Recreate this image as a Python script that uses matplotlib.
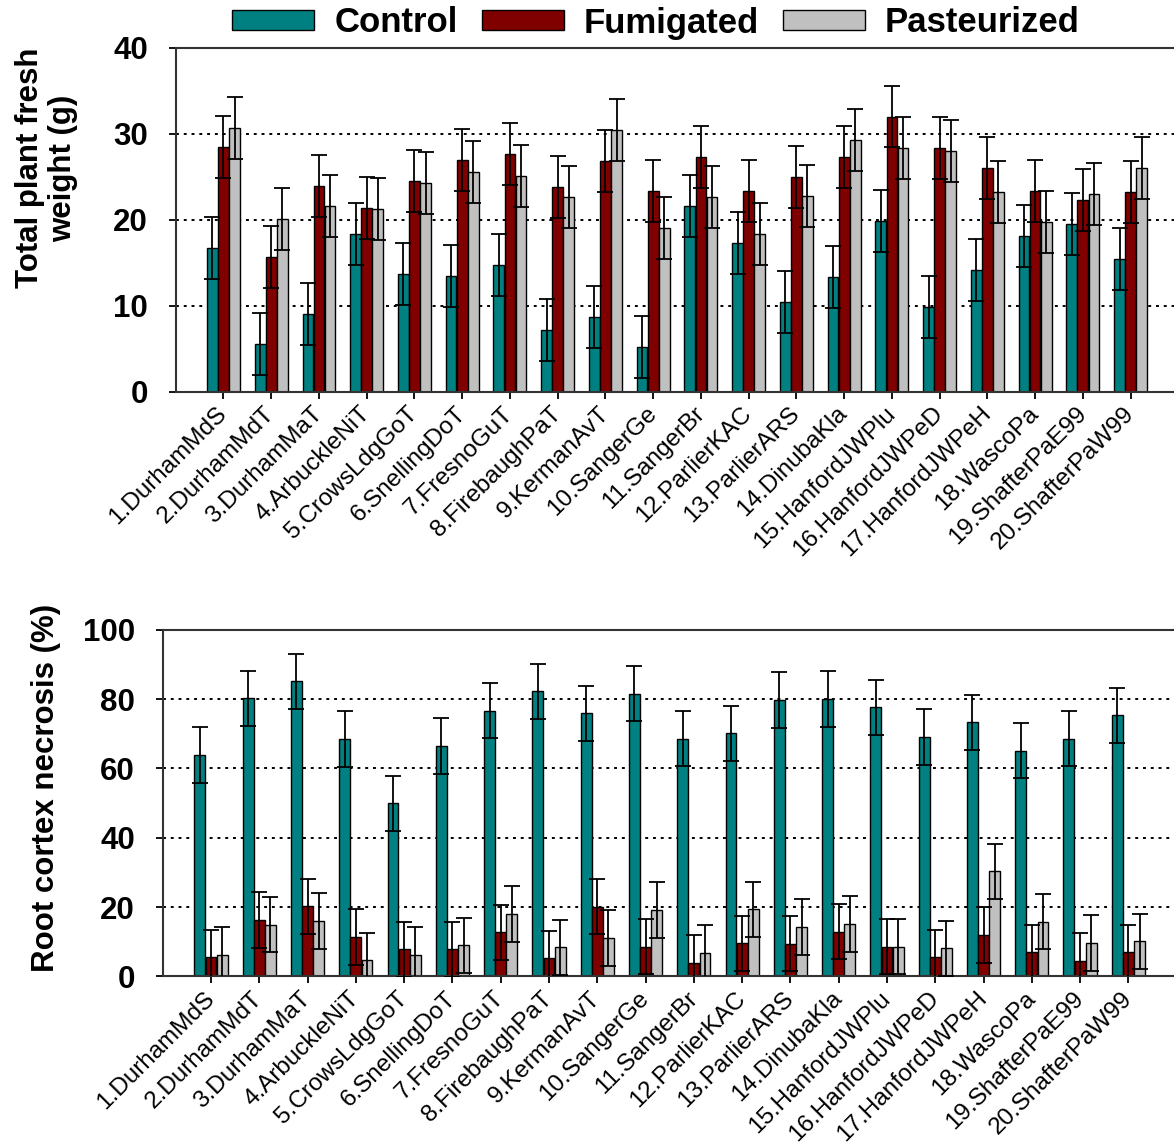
"""
Fresh weight and root cortex necrosis for 20 field soils under three treatments
"""
import matplotlib

matplotlib.use("Agg")
import matplotlib.pyplot as plt
from matplotlib.patches import Patch
from matplotlib.transforms import ScaledTranslation
import numpy as np

plt.rcParams["font.family"] = ["Liberation Sans", "DejaVu Sans"]

SITES = [
    "1.DurhamMdS",
    "2.DurhamMdT",
    "3.DurhamMaT",
    "4.ArbuckleNiT",
    "5.CrowsLdgGoT",
    "6.SnellingDoT",
    "7.FresnoGuT",
    "8.FirebaughPaT",
    "9.KermanAvT",
    "10.SangerGe",
    "11.SangerBr",
    "12.ParlierKAC",
    "13.ParlierARS",
    "14.DinubaKla",
    "15.HanfordJWPlu",
    "16.HanfordJWPeD",
    "17.HanfordJWPeH",
    "18.WascoPa",
    "19.ShafterPaE99",
    "20.ShafterPaW99",
]
TREATMENTS = ["Control", "Fumigated", "Pasteurized"]
COLORS = ["#008080", "#800000", "#C0C0C0"]

WEIGHT_CONTROL = [16.7, 5.5, 9.0, 18.3, 13.7, 13.5, 14.7, 7.2, 8.7, 5.2,
                  21.6, 17.3, 10.4, 13.3, 19.9, 9.9, 14.2, 18.1, 19.5, 15.4]
WEIGHT_FUMIGATED = [28.5, 15.7, 23.9, 21.4, 24.5, 26.9, 27.6, 23.8, 26.8, 23.3,
                    27.3, 23.3, 25.0, 27.3, 32.0, 28.3, 26.0, 23.3, 22.3, 23.2]
WEIGHT_PASTEURIZED = [30.7, 20.1, 21.6, 21.2, 24.3, 25.6, 25.1, 22.6, 30.4, 19.0,
                      22.6, 18.3, 22.8, 29.3, 28.3, 28.0, 23.2, 19.7, 23.0, 26.0]
WEIGHT_ERR = 3.6

NECROSIS_CONTROL = [63.9, 80.2, 85.1, 68.5, 49.9, 66.5, 76.7, 82.2, 75.9, 81.6,
                    68.6, 70.1, 79.7, 80.0, 77.6, 69.0, 73.3, 65.1, 68.6, 75.3]
NECROSIS_FUMIGATED = [5.5, 16.2, 20.2, 11.3, 7.8, 7.8, 12.7, 5.2, 20.1, 8.6,
                      3.9, 9.5, 9.4, 12.9, 8.6, 5.5, 11.9, 6.9, 4.4, 6.9]
NECROSIS_PASTEURIZED = [6.1, 14.9, 16.0, 4.6, 6.1, 8.9, 18.0, 8.4, 11.1, 19.2,
                        6.7, 19.3, 14.2, 15.1, 8.6, 8.1, 30.3, 15.8, 9.6, 10.1]
NECROSIS_ERR = 8.0

BAR_WIDTH = 0.225
BAR_STEP = 0.232


def draw_panel(axis, series, err, ylim, yticks, ylabel, label_xy):
    """
    Draws one grouped bar panel with error bars and dotted grid
    """
    x = np.arange(len(SITES))
    for i, (vals, color) in enumerate(zip(series, COLORS)):
        pos = x + (i - 1) * BAR_STEP
        axis.bar(pos, vals, BAR_WIDTH, color=color, edgecolor="black",
                 linewidth=1.0, zorder=2)
        axis.errorbar(pos, vals, yerr=err, fmt="none", ecolor="black",
                      elinewidth=1.3, capsize=5.5, capthick=1.3, zorder=3)

    axis.set_xlim(-1, 20)
    axis.set_ylim(*ylim)
    axis.set_yticks(yticks)
    axis.set_xticks(x)
    axis.set_xticklabels(SITES, rotation=45, ha="right", va="center",
                         rotation_mode="anchor", fontsize=17.5)
    shift = ScaledTranslation(0.04, 0, axis.figure.dpi_scale_trans)
    for label in axis.get_xticklabels():
        label.set_transform(label.get_transform() + shift)
    for tick in axis.get_yticklabels():
        tick.set_fontweight("bold")
        tick.set_fontsize(22.5)

    for line in yticks[1:-1]:
        axis.axhline(line, color="black", linestyle=(0, (1.5, 2.5)),
                     linewidth=1.4, zorder=1)

    axis.spines["right"].set_visible(False)
    for side in ["top", "left", "bottom"]:
        axis.spines[side].set_color("#333333")
        axis.spines[side].set_linewidth(1.5)
    axis.tick_params(axis="y", direction="out", length=5, width=1.3, pad=15)
    axis.tick_params(axis="x", direction="out", length=5, width=1.3, pad=8.5)

    axis.set_ylabel(ylabel, fontsize=22.5, fontweight="bold",
                    linespacing=1.15)
    axis.yaxis.set_label_coords(label_xy[0], label_xy[1])


if __name__ == "__main__":
    fig = plt.figure(figsize=(11.74, 11.45), dpi=100)

    top = fig.add_axes([0.1497, 0.6579, 0.854, 0.3004])
    draw_panel(
        top,
        [WEIGHT_CONTROL, WEIGHT_FUMIGATED, WEIGHT_PASTEURIZED],
        WEIGHT_ERR,
        (0, 40),
        [0, 10, 20, 30, 40],
        "Total plant fresh\nweight (g)",
        (-0.097, 0.65),
    )

    bottom = fig.add_axes([0.1386, 0.1473, 0.8637, 0.3027])
    draw_panel(
        bottom,
        [NECROSIS_CONTROL, NECROSIS_FUMIGATED, NECROSIS_PASTEURIZED],
        NECROSIS_ERR,
        (0, 100),
        [0, 20, 40, 60, 80, 100],
        "Root cortex necrosis (%)",
        (-0.1, 0.543),
    )

    handles = [Patch(facecolor=c, edgecolor="black", linewidth=1.0)
               for c in COLORS]
    fig.legend(
        handles,
        TREATMENTS,
        loc="center",
        bbox_to_anchor=(656 / 1174, 1 - 23 / 1145),
        ncol=3,
        frameon=False,
        prop={"weight": "bold", "size": 25},
        handlelength=2.36,
        handleheight=0.49,
        handletextpad=0.58,
        columnspacing=0.69,
        borderpad=0,
    )

    fig.savefig("out.png", dpi=100)
